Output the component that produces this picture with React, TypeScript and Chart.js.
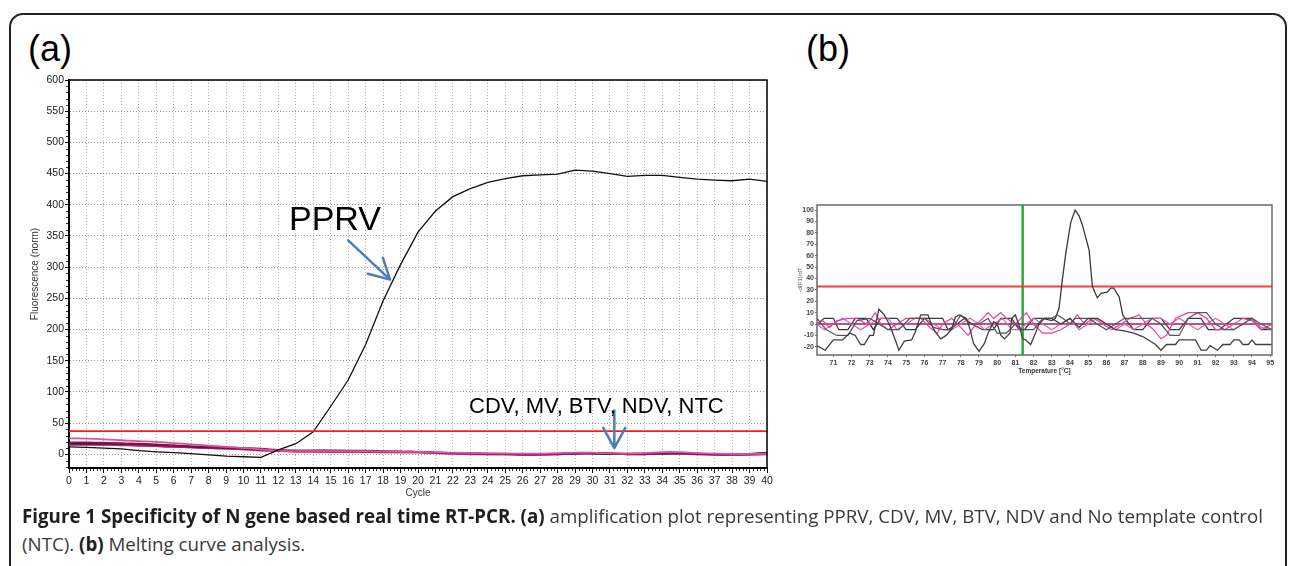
import React, { useEffect, useLayoutEffect, useRef } from 'react';
import { Chart, registerables } from 'chart.js';

Chart.register(...registerables);

const FONT = '"Liberation Sans", Arial, Helvetica, sans-serif';

// ---------- (a) amplification plot ----------
const cycles = [0, 1, 2, 3, 4, 5, 6, 7, 8, 9, 10, 11, 12, 13, 14, 15, 16, 17, 18, 19, 20, 21, 22, 23, 24, 25, 26, 27, 28, 29, 30, 31, 32, 33, 34, 35, 36, 37, 38, 39, 40];
const fluorescenceTicks = [0, 50, 100, 150, 200, 250, 300, 350, 400, 450, 500, 550, 600];
const pprv = [12, 11, 10, 8.5, 6, 4, 2.5, 1, -1, -3, -4, -5, 7, 17, 36, 77, 119, 176, 246, 304, 356, 390, 413, 426, 436, 442, 446.5, 448, 449, 455.5, 454, 450, 445.5, 447, 447, 444, 441, 439.5, 438.5, 441, 437.5];
const cdv = [25.5, 25, 24, 22.5, 21, 20, 18, 16, 14, 12, 10, 8, 6, 5, 5, 5, 5, 5, 4.5, 4, 4, 3, 2.5, 2, 1.5, 1, 1, 1, 2, 2.5, 2.5, 1.5, 1, 2, 3.5, 3.5, 2, 1, 0.5, 0.5, 1];
const mv = [19, 19, 18.5, 18, 17, 16, 14.5, 13, 12, 11, 10, 9, 7, 6, 6, 6, 5.5, 5, 4.5, 4, 4, 3, 2, 1.5, 1, 1, 0, 0, 0.5, 1.5, 2, 2, 1, 1, 1.5, 2, 1, 0, 0, 0.5, 2];
const btv = [17, 17, 17, 16.5, 16, 15, 13.5, 12, 11, 10, 9, 7.5, 6.5, 6, 6, 6, 6, 6, 5, 5, 4, 3, 2, 1.5, 1, 0.5, 0, 0, 1, 1, 1, 0, 0, 1, 1, 1, 1, 0, 0, 1, 3];
const ndv = [16, 16, 15.5, 15, 14, 13, 12, 11, 10, 9, 8, 6, 5, 4, 4, 4, 4, 3.5, 3, 3, 3, 2, 1, 0.5, 0, 0, -1, -1, 0, 1, 1, 1, 0, 0, 1, 1, 0, -1, -1, 0, 1];
const ntc = [15, 15, 15, 14.5, 14, 13, 12, 11, 10, 9, 8, 7, 6, 5, 4.5, 4, 4, 4, 4, 3, 3, 2, 1, 0, 0, 0, -1, 0, 0, 1, 2, 1, 0, 0, 1, 2, 1, 0, -1, -1, 0];
const thresholdA = 37;
// annotation arrows (data coordinates: [cycle, fluorescence])
const pprvArrow = { from: [16.0, 343], to: [18.4, 280] };
const negArrow = { from: [31.25, 70], to: [31.25, 10] };

// ---------- (b) melting curve ----------
const tempTicks = [71, 72, 73, 74, 75, 76, 77, 78, 79, 80, 81, 82, 83, 84, 85, 86, 87, 88, 89, 90, 91, 92, 93, 94, 95];
const derivTicks = [-20, -10, 0, 10, 20, 30, 40, 50, 60, 70, 80, 90, 100];
const peakTemps = [70.1, 70.5, 71, 71.3, 71.8, 72.2, 72.8, 73.2, 73.6, 74.5, 75, 75.5, 76, 77, 77.3, 77.8, 78.2, 78.6, 79.2, 79.8, 80.2, 80.8, 81.2, 81.5, 82, 82.5, 83, 83.2, 83.4, 83.58, 83.77, 84.04, 84.28, 84.5, 84.68, 85.05, 85.23, 85.5, 85.7, 86.05, 86.24, 86.4, 86.7, 86.9, 87.15, 87.5, 88, 88.5, 89, 89.5, 90, 90.5, 91.2, 91.6, 92.2, 92.6, 93, 94, 94.5, 95.1];
const peakValues = [0, 5, 5, -5, -5, 5, 5, -5, 5, 5, -5, -5, 5, 5, -5, 0, 5, 0, -5, -5, 5, 5, -5, -5, 5, 5, 3, 5, 14, 39, 62, 89, 100, 95, 87, 65, 33, 23, 27, 28, 31.6, 31.6, 24, 8, 2, -5, -5, 5, 5, -5, -5, 5, 5, -5, -5, 0, 5, 5, -5, -5];
const lowTemps = [70.1, 70.55, 71, 71.5, 71.9, 72.2, 72.5, 72.7, 73, 73.2, 73.5, 73.8, 74.1, 74.4, 74.6, 74.9, 75.3, 75.5, 75.8, 76.2, 76.4, 76.6, 76.9, 77.2, 77.5, 77.7, 77.9, 78.3, 78.5, 78.7, 79, 79.3, 79.5, 79.8, 80, 80.2, 80.4, 80.7, 80.8, 81, 81.2, 81.4, 81.57, 81.84, 82.1, 82.3, 82.6, 83, 83.5, 84, 84.5, 85, 85.5, 86, 86.5, 87, 87.5, 88, 88.7, 89, 89.3, 89.8, 90, 90.9, 91.2, 91.5, 91.7, 91.9, 92.1, 92.4, 92.8, 93, 93.3, 93.5, 93.8, 94, 94.2, 95.1];
const lowValues = [-19, -23, -14, -14, -8, -10, -18, -18, -10, -10, 13, 8, -1, -14, -23, -15, -14, -7, 8, 8, -1, -7, -13, -10, -4, 6, 8, 5, -4, -17, -24, -17, -8, 2, 0, -10, -13, -8, 5, 8, -1, -13, -14, -18, -8, 0, 5, 5, 0, 5, -3, 5, 5, 0, -5, -6, -8, -11, -18, -23, -18, -18, -14, -14, -23, -23, -19, -21, -23, -18, -18, -14, -14, -18, -18, -14, -18, -18];
const midTemps = [70.1, 70.6, 71.2, 71.8, 72.3, 73, 73.5, 74, 74.6, 75.2, 76, 76.5, 77, 77.5, 78, 78.5, 79, 79.5, 80, 80.5, 81, 81.4, 82, 82.5, 83, 83.3, 83.6, 84, 84.3, 85, 85.5, 86, 86.5, 87, 87.5, 88, 88.5, 89, 89.5, 90, 90.5, 91, 91.5, 92, 92.5, 93, 93.5, 94, 94.5, 95.1];
const midValues = [5, -5, -10, -10, 3, 5, 0, -5, -5, 5, 5, -3, -5, -5, 8, 0, 0, 5, -8, -8, 0, -5, -5, 5, 5, 8, 5, 0, 5, 5, 0, -5, 0, 5, 5, 5, 5, 0, -10, -10, 5, 10, 10, 0, -5, -5, 0, 5, 0, -5];
const pinkATemps = [70.1, 70.4, 70.8, 71.2, 71.8, 72.3, 72.8, 73.1, 73.3, 73.6, 74, 74.5, 75, 75.8, 76.3, 76.7, 77, 77.5, 78, 78.4, 78.7, 79.2, 79.5, 79.8, 80.2, 80.5, 81, 81.3, 81.6, 82, 82.5, 83, 83.5, 84, 84.4, 84.8, 85.3, 85.8, 86.3, 86.8, 87.3, 87.8, 88.2, 88.6, 89, 89.3, 89.8, 90.5, 91, 91.5, 92, 92.5, 93, 93.5, 94, 94.5, 95.1];
const pinkAValues = [0, 3, -3, 3, 5, 5, 0, 5, 10, 0, -5, 0, 5, 5, -3, -8, 0, 5, -3, -10, -3, 5, 10, 5, 10, 5, 0, 5, 10, 0, -8, -8, -5, 0, 8, 0, 5, 0, -5, 0, 5, 8, 0, -5, -13, -10, 5, 10, 10, 5, -5, -5, 0, 5, 3, -5, 0];
const pinkBTemps = [70.1, 70.5, 71, 71.5, 72, 72.5, 73, 73.5, 74, 74.5, 75, 75.5, 76, 76.5, 77, 77.5, 78, 78.5, 79, 79.3, 79.8, 80.3, 80.8, 81.2, 81.6, 82, 82.5, 83, 83.5, 84, 84.5, 85, 85.5, 86, 86.5, 87, 87.5, 88, 88.5, 89, 89.5, 90, 90.5, 91, 91.5, 92, 92.5, 93, 93.5, 94, 94.5, 95.1];
const pinkBValues = [0, -5, 0, 5, 0, -5, 0, 5, 5, -5, 0, 5, 5, 0, -5, -5, 0, 5, 0, -5, 0, 5, -5, -5, 0, 5, 0, -5, 0, 5, -5, 0, 5, 0, -5, 0, -5, 0, 5, 5, 0, 5, 0, -5, 0, 5, 0, -5, 0, 5, -3, -5];
const flatTemps = [70.1, 95.1];
const flatValues = [0, 0];
const thresholdB = 33;
const markerTemp = 81.4;
const yRangeB = [-27.2, 104.5];

const pts = (xs: number[], ys: number[]) => xs.map((x, i) => ({ x, y: ys[i] }));

const line = (data: any, color: string, width: number, tension = 0) => ({
  data,
  borderColor: color,
  backgroundColor: color,
  borderWidth: width,
  pointRadius: 0,
  tension,
  fill: false,
});

function drawArrow(ctx: CanvasRenderingContext2D, x1: number, y1: number, x2: number, y2: number) {
  const ang = Math.atan2(y2 - y1, x2 - x1);
  const len = 23;
  const spread = Math.PI / 6.3;
  ctx.beginPath();
  ctx.moveTo(x1, y1);
  ctx.lineTo(x2, y2);
  ctx.moveTo(x2 - len * Math.cos(ang - spread), y2 - len * Math.sin(ang - spread));
  ctx.lineTo(x2, y2);
  ctx.lineTo(x2 - len * Math.cos(ang + spread), y2 - len * Math.sin(ang + spread));
  ctx.stroke();
}

const frameA = {
  id: 'frameA',
  afterDraw(chart: any) {
    const { ctx, chartArea, scales } = chart;
    const { left, top, right, bottom } = chartArea;
    const x = scales.x;
    const y = scales.y;
    ctx.save();
    ctx.strokeStyle = '#000';
    ctx.lineWidth = 1.5;
    ctx.beginPath();
    ctx.moveTo(left, top);
    ctx.lineTo(right, top);
    ctx.lineTo(right, bottom);
    ctx.stroke();
    // minor ticks
    ctx.lineWidth = 1;
    ctx.strokeStyle = '#333';
    ctx.beginPath();
    for (let i = 1; i < 200; i++) {
      if (i % 5 === 0) continue;
      const px = Math.round(x.getPixelForValue(i / 5)) + 0.5;
      ctx.moveTo(px, bottom + 1);
      ctx.lineTo(px, bottom + 3);
    }
    for (let v = -20; v < 600; v += 10) {
      if (v % 50 === 0) continue;
      const py = Math.round(y.getPixelForValue(v)) + 0.5;
      ctx.moveTo(left - 1, py);
      ctx.lineTo(left - 3, py);
    }
    ctx.stroke();
    // arrows
    ctx.strokeStyle = '#4a7ebb';
    ctx.lineWidth = 2.5;
    ctx.lineCap = 'round';
    ctx.lineJoin = 'round';
    for (const a of [pprvArrow, negArrow]) {
      drawArrow(
        ctx,
        x.getPixelForValue(a.from[0]),
        y.getPixelForValue(a.from[1]),
        x.getPixelForValue(a.to[0]),
        y.getPixelForValue(a.to[1])
      );
    }
    ctx.restore();
  },
};

const frameB = {
  id: 'frameB',
  afterDraw(chart: any) {
    const { ctx, chartArea } = chart;
    const { left, top, right, bottom } = chartArea;
    ctx.save();
    ctx.strokeStyle = '#6a6a6a';
    ctx.lineWidth = 1.5;
    ctx.strokeRect(left, top, right - left, bottom - top);
    ctx.restore();
  },
};

export default function App() {
  const aRef = useRef<HTMLCanvasElement>(null);
  const bRef = useRef<HTMLCanvasElement>(null);
  const l1 = useRef<HTMLDivElement>(null);
  const l2 = useRef<HTMLDivElement>(null);

  useEffect(() => {
    document.body.style.margin = '0';
    const chartA = new Chart(aRef.current as HTMLCanvasElement, {
      type: 'line',
      data: {
        datasets: [
          line(pts([0, 40], [thresholdA, thresholdA]), '#ff1a1a', 1.8),
          line(pts(cycles, pprv), '#111111', 1.3, 0),
          line(pts(cycles, cdv), '#d9559a', 1.8, 0.4),
          line(pts(cycles, mv), '#8e1450', 1.8, 0.4),
          line(pts(cycles, btv), '#222222', 1.5, 0.4),
          line(pts(cycles, ndv), '#c2187a', 1.8, 0.4),
          line(pts(cycles, ntc), '#b03a78', 1.8, 0.4),
        ] as any,
      },
      options: {
        responsive: false,
        animation: false,
        events: [],
        layout: { padding: { left: 0, top: 80, right: 23, bottom: 0 } },
        plugins: { legend: { display: false }, tooltip: { enabled: false } },
        scales: {
          x: {
            type: 'linear',
            min: 0,
            max: 40,
            afterBuildTicks: (s: any) => {
              s.ticks = cycles.map((v) => ({ value: v }));
            },
            afterFit: (s: any) => {
              s.height = 42;
            },
            ticks: { autoSkip: false, maxRotation: 0, minRotation: 0, font: { family: FONT, size: 10.5 }, color: '#222', padding: 2 },
            grid: { color: '#b5b5b5', lineWidth: 1, tickLength: 5, tickColor: '#000', tickWidth: 1 },
            border: { color: '#000', width: 2, dash: [1, 2] },
            title: { display: true, text: 'Cycle', font: { family: FONT, size: 10 }, color: '#333', padding: { top: 0, bottom: 11 } },
          },
          y: {
            type: 'linear',
            min: -22,
            max: 600,
            afterBuildTicks: (s: any) => {
              s.ticks = fluorescenceTicks.map((v) => ({ value: v }));
            },
            afterFit: (s: any) => {
              s.width = 69;
            },
            ticks: { font: { family: FONT, size: 10.5 }, color: '#222', padding: 1 },
            grid: { color: '#9a9a9a', lineWidth: 1, tickLength: 4, tickColor: '#000', tickWidth: 1 },
            border: { color: '#000', width: 2, dash: [1, 2] },
            title: { display: true, text: 'Fluorescence (norm)', font: { family: FONT, size: 10 }, color: '#333', padding: { top: 29, bottom: 0 } },
          },
        },
      } as any,
      plugins: [frameA],
    });

    const chartB = new Chart(bRef.current as HTMLCanvasElement, {
      type: 'line',
      data: {
        datasets: [
          line(pts(lowTemps, lowValues), '#404040', 1.3),
          line(pts(midTemps, midValues), '#555555', 1.2),
          line(pts(pinkATemps, pinkAValues), '#e2409c', 1.2),
          line(pts(pinkBTemps, pinkBValues), '#d566b2', 1.2),
          line(pts(flatTemps, flatValues), '#a01c63', 1.5),
          line(pts(peakTemps, peakValues), '#3a3a3a', 1.3),
          line(pts(flatTemps, [thresholdB, thresholdB]), '#ff3b3b', 2),
          line(pts([markerTemp, markerTemp], yRangeB), '#2fa83a', 2.5),
        ] as any,
      },
      options: {
        responsive: false,
        animation: false,
        events: [],
        layout: { padding: { left: 0, top: 25, right: 13, bottom: 0 } },
        plugins: { legend: { display: false }, tooltip: { enabled: false } },
        scales: {
          x: {
            type: 'linear',
            min: 70.1,
            max: 95.1,
            afterBuildTicks: (s: any) => {
              s.ticks = tempTicks.map((v) => ({ value: v }));
            },
            afterFit: (s: any) => {
              s.height = 30;
            },
            ticks: { autoSkip: false, maxRotation: 0, minRotation: 0, font: { family: FONT, size: 7, weight: 'bold' }, color: '#444', padding: 2 },
            grid: { display: true, drawOnChartArea: false, drawTicks: true, tickLength: 2, tickColor: '#777' },
            border: { display: false },
            title: { display: true, text: 'Temperature [°C]', font: { family: FONT, size: 6.5, weight: 'bold' }, color: '#333', padding: { top: 0, bottom: 10 } },
          },
          y: {
            type: 'linear',
            min: yRangeB[0],
            max: yRangeB[1],
            afterBuildTicks: (s: any) => {
              s.ticks = derivTicks.map((v) => ({ value: v }));
            },
            afterFit: (s: any) => {
              s.width = 27;
            },
            ticks: { font: { family: FONT, size: 7, weight: 'bold' }, color: '#444', padding: 1 },
            grid: { display: true, drawOnChartArea: false, drawTicks: true, tickLength: 2, tickColor: '#777' },
            border: { display: false },
            title: { display: true, text: '-d(F1)/dT', font: { family: FONT, size: 6 }, color: '#555', padding: { top: 7, bottom: 0 } },
          },
        },
      } as any,
      plugins: [frameB],
    });

    return () => {
      chartA.destroy();
      chartB.destroy();
    };
  }, []);

  useLayoutEffect(() => {
    const fit = () => {
      const a = l1.current;
      const b = l2.current;
      if (!a || !b) return;
      a.style.transform = 'none';
      b.style.transform = 'none';
      const w = a.getBoundingClientRect().width;
      if (w > 0) {
        const s = 1241 / w;
        a.style.transform = `scaleX(${s})`;
        b.style.transform = `scaleX(${s})`;
      }
    };
    fit();
    if ((document as any).fonts && (document as any).fonts.ready) {
      (document as any).fonts.ready.then(fit);
    }
  }, []);

  const capBase: React.CSSProperties = {
    position: 'absolute',
    left: 22,
    whiteSpace: 'nowrap',
    fontFamily: '"Open Sans", "Noto Sans", sans-serif',
    fontSize: 19,
    lineHeight: '28px',
    color: '#3a3a3a',
    transformOrigin: '0 0',
  };
  const bold: React.CSSProperties = { fontWeight: 700, color: '#1e1e1e' };

  return (
    <div style={{ position: 'fixed', left: 0, top: 0, width: 1290, height: 566, overflow: 'hidden', background: '#fff', fontFamily: FONT }}>
      <div
        style={{
          position: 'absolute',
          left: 9,
          top: 13,
          width: 1278,
          height: 620,
          border: '2px solid #222',
          borderRadius: 14,
          boxSizing: 'border-box',
        }}
      />
      <div style={{ position: 'absolute', left: 28, top: 31, fontSize: 36, lineHeight: '36px', color: '#000', fontFamily: FONT }}>(a)</div>
      <div style={{ position: 'absolute', left: 806, top: 31, fontSize: 36, lineHeight: '36px', color: '#000', fontFamily: FONT }}>(b)</div>
      <canvas ref={aRef} width={790} height={510} style={{ position: 'absolute', left: 0, top: 0 }} />
      <canvas ref={bRef} width={495} height={205} style={{ position: 'absolute', left: 790, top: 180 }} />
      <div style={{ position: 'absolute', left: 289, top: 201, fontSize: 34, lineHeight: '34px', color: '#000', fontFamily: FONT }}>PPRV</div>
      <div style={{ position: 'absolute', left: 469, top: 395, fontSize: 22, lineHeight: '22px', color: '#000', fontFamily: FONT, whiteSpace: 'nowrap' }}>
        CDV, MV, BTV, NDV, NTC
      </div>
      <div ref={l1} style={{ ...capBase, top: 502 }}>
        <span style={bold}>Figure 1 Specificity of N gene based real time RT-PCR. (a)</span> amplification plot representing PPRV, CDV, MV, BTV, NDV and No template control
      </div>
      <div ref={l2} style={{ ...capBase, top: 530 }}>
        (NTC). <span style={bold}>(b)</span> Melting curve analysis.
      </div>
    </div>
  );
}
